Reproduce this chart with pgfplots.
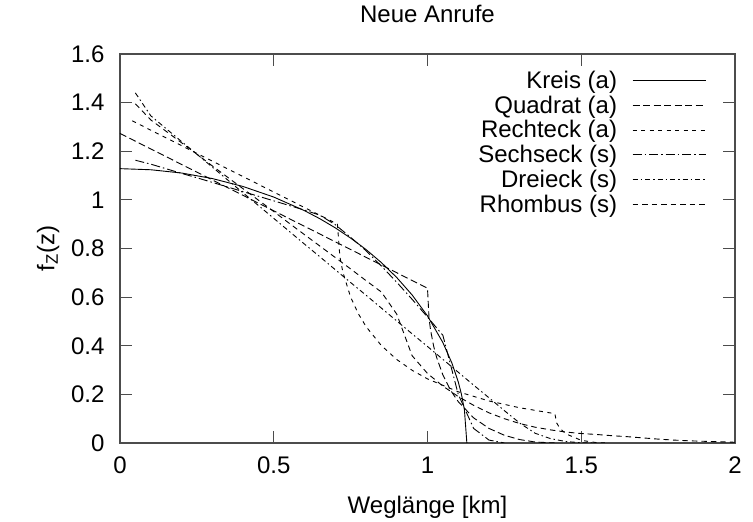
\documentclass[border=0pt]{standalone}
\usepackage{fontspec}
\setmainfont{Liberation Sans}
\usepackage{pgfplots}
\pgfplotsset{compat=1.18}
\begin{document}
\begin{tikzpicture}[font=\fontsize{24}{28}\selectfont]
\path[use as bounding box] (0pt,0pt) rectangle (753pt,522pt);
\begin{axis}[
  at={(120pt,79pt)}, anchor=south west,
  scale only axis, width=615pt, height=389pt,
  xmin=0, xmax=2, ymin=0, ymax=1.6,
  xtick={0,0.5,1,1.5,2},
  ytick={0,0.2,0.4,0.6,0.8,1,1.2,1.4,1.6},
  tick align=inside, major tick length=12pt, tick pos=both,
  /pgf/number format/assume math mode=true,
  axis line style={draw=black!70, line width=1.2pt},
  every tick/.style={draw=black!70, line width=1.1pt},
  yticklabel style={xshift=-12pt},
  xticklabel style={yshift=-10pt},
  title={Neue Anrufe},
  title style={at={(axis description cs:0.5,1.087)}, anchor=center},
  xlabel={Weglänge [km]},
  xlabel style={at={(axis description cs:0.5,-0.165)}, anchor=center},
  ylabel={f\textsubscript{Z}(z)},
  ylabel style={at={(axis description cs:-0.117,0.5)}, anchor=center},
  legend cell align=right,
  legend plot pos=right,
  legend image code/.code={\draw[#1] (0pt,0pt) -- (73pt,0pt);},
  legend style={at={(axis description cs:0.958,0.965)}, anchor=north east,
    draw=none, fill=none, nodes={inner sep=1pt}, row sep=4pt, column sep=14pt},
]
% Kreis (a)
\addplot[black, line width=0.9pt] coordinates {
(0,1.1284)(0.1,1.1239)(0.2,1.1105)(0.3,1.0878)(0.4,1.0551)(0.5,1.0116)(0.6,0.9556)(0.65,0.9224)(0.7,0.8850)(0.75,0.8430)(0.8,0.7958)(0.85,0.7421)(0.9,0.6806)(0.95,0.6089)(1.0,0.5227)(1.05,0.4132)(1.08,0.3269)(1.1,0.2515)(1.11,0.2028)(1.12,0.1373)(1.128,0)};
\addlegendentry{Kreis (a)}
% Quadrat (a)
\addplot[black, line width=0.9pt, dash pattern=on 7pt off 3.5pt] coordinates {
(0,1.2732)(0.5,0.9549)(1.0,0.6366)(1.005,0.5129)(1.01,0.4640)(1.02,0.3984)(1.03,0.3506)(1.05,0.2800)(1.075,0.2171)(1.1,0.1700)(1.15,0.1034)(1.2,0.0600)(1.25,0.0318)(1.3,0.0140)(1.35,0.0041)(1.4142,0)};
\addlegendentry{Quadrat (a)}
% Rechteck (a)
\addplot[black, line width=0.9pt, dash pattern=on 4pt off 4.5pt] coordinates {
(0.04,1.3250)(0.3,1.1595)(0.5,1.0322)(0.7071,0.9003)(0.715,0.767)(0.725,0.7015)(0.75,0.600)(0.775,0.5318)(0.8,0.479)(0.85,0.4007)(0.9,0.3434)(0.95,0.2991)(1.0,0.2637)(1.1,0.2107)(1.2,0.1729)(1.3,0.1449)(1.4142,0.1206)(1.42,0.0826)(1.43,0.0612)(1.45,0.0376)(1.5,0.0109)(1.55,0.0015)(1.5811,0)};
\addlegendentry{Rechteck (a)}
% Sechseck (s)
\addplot[black, line width=0.9pt, dash pattern=on 9pt off 3pt on 1.5pt off 3pt] coordinates {
(0.05,1.163)(0.1,1.147)(0.15,1.128)(0.2,1.109)(0.25,1.091)(0.3,1.072)(0.35,1.053)(0.4,1.034)(0.45,1.015)(0.5,0.996)(0.55,0.977)(0.6,0.958)(0.65,0.937)(0.7,0.898)(0.75,0.846)(0.8,0.791)(0.85,0.728)(0.9,0.661)(0.95,0.591)(1.0,0.518)(1.05,0.443)(1.1,0.20)(1.15,0.06)(1.2,0.012)(1.25,0)};
\addlegendentry{Sechseck (s)}
% Dreieck (s)
\addplot[black, line width=0.9pt, dash pattern=on 5pt off 3pt on 1.5pt off 3pt] coordinates {
(0.05,1.44)(0.1,1.346)(0.15,1.293)(0.2,1.240)(0.25,1.188)(0.3,1.135)(0.35,1.082)(0.4,1.029)(0.45,0.977)(0.5,0.924)(0.55,0.871)(0.6,0.818)(0.65,0.766)(0.7,0.713)(0.75,0.660)(0.8,0.608)(0.85,0.555)(0.9,0.502)(0.95,0.449)(1.0,0.397)(1.05,0.344)(1.1,0.291)(1.15,0.238)(1.2,0.186)(1.25,0.133)(1.3,0.082)(1.35,0.040)(1.4,0.018)(1.45,0.006)(1.5,0.001)(1.55,0)};
\addlegendentry{Dreieck (s)}
% Rhombus (s)
\addplot[black, line width=0.9pt, dash pattern=on 5.5pt off 4pt] coordinates {
(0.05,1.395)(0.1,1.329)(0.15,1.282)(0.2,1.235)(0.25,1.188)(0.3,1.140)(0.35,1.093)(0.4,1.046)(0.45,0.999)(0.5,0.952)(0.55,0.904)(0.6,0.857)(0.65,0.810)(0.7,0.763)(0.75,0.716)(0.8,0.668)(0.85,0.621)(0.9,0.53)(0.95,0.359)(1.0,0.286)(1.05,0.234)(1.1,0.191)(1.15,0.155)(1.2,0.124)(1.25,0.100)(1.3,0.080)(1.35,0.065)(1.4,0.054)(1.45,0.045)(1.5,0.039)(1.55,0.035)(1.6,0.030)(1.65,0.026)(1.7,0.021)(1.75,0.016)(1.8,0.012)(1.85,0.009)(1.9,0.007)(1.95,0.005)(2.0,0.003)};
\addlegendentry{Rhombus (s)}
\end{axis}
\end{tikzpicture}
\end{document}
